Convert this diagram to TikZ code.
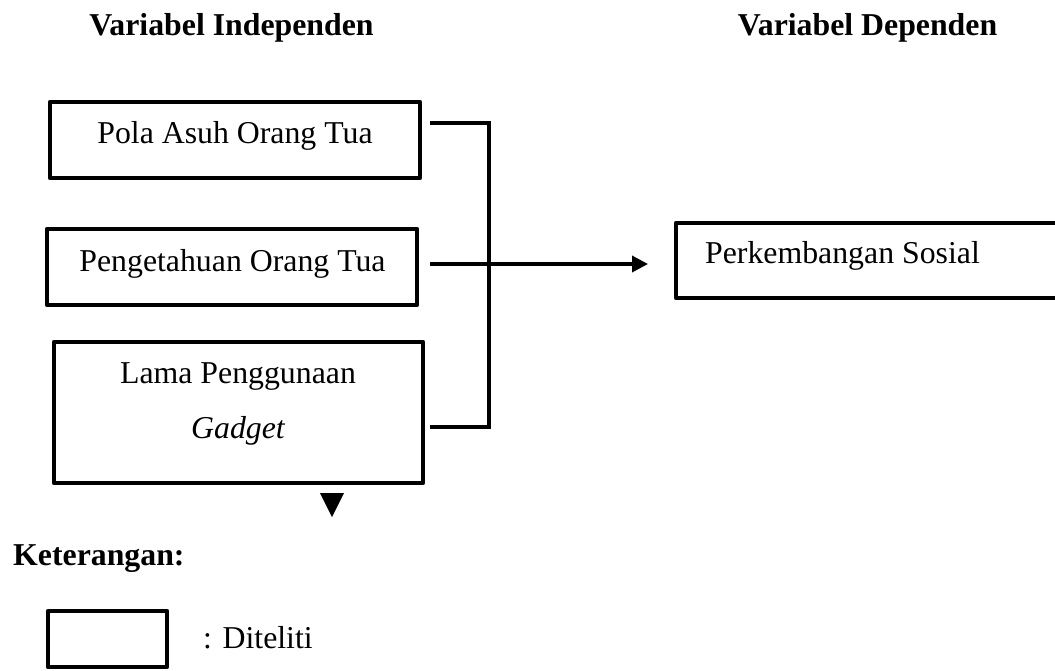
\documentclass[tikz,border=0pt]{standalone}
\usepackage{fontspec}
\setmainfont{Liberation Serif}
\usetikzlibrary{arrows.meta}
\begin{document}
\begin{tikzpicture}[x=1pt,y=-1pt,
  varbox/.style={draw,line width=4.5pt,line join=round,minimum width=#1,inner sep=0pt},
  txt/.style={anchor=base,inner sep=0pt,font=\fontsize{31.8pt}{38pt}\selectfont},
  head/.style={txt,font=\fontsize{31.8pt}{38pt}\selectfont\bfseries},
  conn/.style={line width=3.5pt}]
\clip (0,0) rectangle (1055,670);
\fill[white] (0,0) rectangle (1055,670);
% titles
\node[head] (ti) at (231.5,35) {Variabel Independen};
\node[head] (td) at (867.5,35) {Variabel Dependen};
% boxes
\node[varbox=370pt,minimum height=76pt] (b1) at (235,140) {};
\node[varbox=370pt,minimum height=76pt] (b2) at (232,267) {};
\node[varbox=369pt,minimum height=141pt] (b3) at (238.5,412.5) {};
\node[varbox=400pt,minimum height=75pt] (t) at (876,260.5) {};
% texts
\node[txt] (l1) at (235,143) {Pola Asuh Orang Tua};
\node[txt] (l2) at (232.5,271) {Pengetahuan Orang Tua};
\node[txt] (l3a) at (238,383) {Lama Penggunaan};
\node[txt] (l3b) at (238,438) {\itshape Gadget};
\node[txt] (lt) at (842.5,263) {Perkembangan Sosial};
% connectors
\coordinate (c1) at (430,123);
\coordinate (c2) at (430,264);
\coordinate (c3) at (430,427);
\coordinate (j1) at (489,123);
\coordinate (j3) at (489,427);
\coordinate (a2) at (648,264);
\draw[conn,line join=miter] (c1) -- (j1) -- (j3) -- (c3);
\draw[conn,-{Triangle[length=16pt,width=16pt]}] (c2) -- (a2);
% small triangle
\fill (320,493) -- (344,493) -- (332,517) -- cycle;
% legend
\node[head,anchor=base west] (k) at (13,565) {Keterangan:};
\node[varbox=119pt,minimum height=56pt] (lg) at (107.5,639) {};
\node[txt,anchor=base west] (ld) at (203,648) {: Diteliti};
\end{tikzpicture}
\end{document}
